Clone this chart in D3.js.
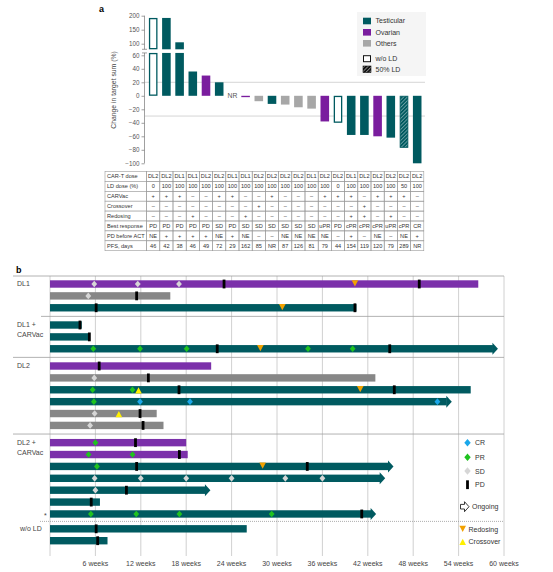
<!DOCTYPE html>
<html><head><meta charset="utf-8">
<script src="https://cdn.jsdelivr.net/npm/d3@7"></script>
<style>body{margin:0;background:#fff}svg text{font-family:"Liberation Sans",Arial,sans-serif}</style>
</head><body><svg id="c" width="553" height="572"></svg>
<script>
// ---------------- Panel a data ----------------
const patients = d3.range(1, 22).map(String);
const changePct = [192, 192, 105, 36, 30, 20, null, -2, -8, -12, -13, -17, -19, -38, -40, -58, -58, -60, -62, -77, -100];
const tumorA = ["Testicular","Testicular","Testicular","Testicular","Ovarian","Testicular","Testicular","Ovarian","Others","Testicular","Others","Others","Others","Ovarian","Testicular","Testicular","Testicular","Ovarian","Testicular","Testicular","Testicular"];
const carTDose = ["DL2","DL2","DL1","DL1","DL2","DL2","DL1","DL1","DL2","DL2","DL2","DL2","DL1","DL2","DL2","DL1","DL2","DL2","DL2","DL2","DL2"];
const ldDose = ["0","100","100","100","100","100","100","100","100","100","100","100","100","100","0","100","100","100","100","50","100"];
const carvac = ["+","+","+","–","–","+","+","–","–","+","–","–","–","+","+","+","–","+","+","+","–"];
const crossover = ["–","–","–","–","–","–","–","–","+","–","–","–","–","–","–","–","+","–","–","–","–"];
const redosing = ["–","–","–","+","–","–","–","+","–","–","–","–","–","–","–","+","+","–","+","–","–"];
const bestResp = ["PD","PD","PD","PD","PD","SD","PD","SD","SD","SD","SD","SD","SD","uPR","PD","cPR","cPR","cPR","uPR","cPR","CR"];
const pdBefore = ["NE","+","+","+","+","NE","+","NE","–","–","NE","NE","NE","NE","–","+","–","NE","–","NE","+"];
const pfsDays = ["46","42","38","46","49","72","29","162","85","NR","87","126","81","79","44","154","119","120","79","289","NR"];
const tableLabels = ["CAR-T dose","LD dose (%)","CARVac","Crossover","Redosing","Best response","PD before ACT","PFS, days"];
const lowTicks = d3.range(-100, 61, 20);
const highTicks = [100, 150, 200];
const thresholds = [20, -30];

// ---------------- Panel b data ----------------
const rowIds = d3.range(1, 22).map(String);
const rowGroup = ["DL1","DL1","DL1","DL1 + CARVac","DL1 + CARVac","DL1 + CARVac","DL2","DL2","DL2","DL2","DL2","DL2","DL2 + CARVac","DL2 + CARVac","DL2 + CARVac","DL2 + CARVac","DL2 + CARVac","DL2 + CARVac","DL2 + CARVac","w/o LD","w/o LD"];
const rowTumor = ["Ovarian","Others","Testicular","Testicular","Testicular","Testicular","Ovarian","Others","Testicular","Testicular","Others","Others","Ovarian","Ovarian","Testicular","Testicular","Testicular","Testicular","Testicular","Testicular","Testicular"];
const rowEndWeeks = [56.6, 15.9, 40.5, 4.2, 5.3, 59.2, 21.3, 43.0, 55.6, 53.1, 14.1, 15.0, 18.0, 18.2, 45.4, 44.3, 21.2, 6.6, 43.1, 26.0, 7.6];
const rowOngoing = [false,false,false,false,false,true,false,false,false,true,false,false,false,false,true,true,true,false,true,false,false];
const rowEvents = [
  [[5.85,"SD"],[11.6,"SD"],[17.05,"SD"],[23.0,"PD"],[40.3,"R"],[48.8,"PD"]],
  [[5.06,"SD"],[11.45,"PD"]],
  [[6.1,"PD"],[30.7,"R"],[40.3,"PD"]],
  [[3.96,"PD"]],
  [[5.2,"PD"]],
  [[5.72,"PR"],[11.9,"PR"],[18.06,"PR"],[22.1,"PD"],[27.8,"R"],[34.1,"PR"],[40.0,"PR"],[44.9,"PD"]],
  [[6.5,"PD"]],
  [[5.85,"SD"],[13.0,"PD"]],
  [[5.64,"PR"],[10.9,"PR"],[11.7,"C"],[17.05,"PD"],[41.0,"R"],[45.5,"PD"]],
  [[5.8,"PR"],[11.9,"CR"],[18.5,"CR"],[51.2,"CR"]],
  [[5.9,"SD"],[9.1,"C"],[11.9,"PD"]],
  [[5.3,"SD"],[12.3,"PD"]],
  [[6.0,"PR"],[11.3,"PD"]],
  [[5.1,"PR"],[10.9,"PR"],[17.1,"PD"]],
  [[6.2,"PR"],[11.45,"PD"],[28.1,"R"],[34.0,"PD"]],
  [[5.9,"SD"],[12.0,"SD"],[18.0,"SD"],[24.0,"SD"],[31.1,"SD"],[36.0,"SD"]],
  [[6.0,"SD"],[10.1,"PD"]],
  [[5.45,"PD"]],
  [[5.4,"PR"],[11.4,"PR"],[17.1,"PR"],[29.3,"PR"],[41.2,"PD"]],
  [[6.1,"PD"]],
  [[6.3,"PD"]]
];
const weekTicks = d3.range(6, 61, 6);
const groupNames = ["DL1","DL1 + CARVac","DL2","DL2 + CARVac","w/o LD"];

// ---------------- styles ----------------
const colA = {Testicular:"#005a60", Ovarian:"#7a1d9e", Others:"#a7a7a7"};
const colB = {Testicular:"#005a60", Ovarian:"#7b30aa", Others:"#878787"};
const evCol = {CR:"#1aa7ea", PR:"#1fc21f", SD:"#d6d6d6", R:"#f2a100", C:"#fff000"};
const font = '"Liberation Sans",Arial,sans-serif';

const svg = d3.select("#c");
const defs = svg.append("defs");
function hatch(id, bg, fg) {
  const p = defs.append("pattern").attr("id", id).attr("patternUnits", "userSpaceOnUse")
    .attr("width", 2.6).attr("height", 2.6).attr("patternTransform", "rotate(45)");
  p.append("rect").attr("width", 2.6).attr("height", 2.6).attr("fill", bg);
  p.append("line").attr("x1", 0).attr("y1", 0).attr("x2", 0).attr("y2", 2.6).attr("stroke", fg).attr("stroke-width", 0.9);
}
hatch("hT", colA.Testicular, "#cfe3e4");
hatch("hK", "#111", "#fff");

// =============== Panel a ===============
svg.append("text").attr("x", 99).attr("y", 12).attr("font-size", 9).attr("font-weight", "bold").text("a");

const x = d3.scaleBand().domain(patients).range([146.6, 423.8]).paddingInner(0.35).paddingOuter(0.175);
const yLow = d3.scaleLinear().domain([-100, 60]).range([163.3, 55.3]);
const yUp = d3.scaleLinear().domain([100, 200]).range([43.7, 15.7]);
const lowTop = 63.5, upBottom = 80;
const axX = 144.5;

const gA = svg.append("g");
// threshold lines
thresholds.forEach(t => {
  gA.append("line").attr("x1", axX + 1).attr("x2", 425).attr("y1", yLow(t)).attr("y2", yLow(t))
    .attr("stroke", "#8a8a8a").attr("stroke-width", 0.7).attr("stroke-dasharray", "1,1");
});
// axes
const axL = gA.append("g").attr("transform", `translate(${axX},0)`).call(d3.axisLeft(yLow).tickValues(lowTicks).tickSize(3).tickPadding(2));
const axU = gA.append("g").attr("transform", `translate(${axX},0)`).call(d3.axisLeft(yUp).tickValues(highTicks).tickSize(3).tickPadding(2));
[axL, axU].forEach(a => {
  a.select(".domain").remove();
  a.selectAll("line").attr("stroke", "#777").attr("stroke-width", 0.7);
  a.selectAll("text").attr("font-size", 6.3).attr("fill", "#555").attr("font-family", font);
});
gA.append("line").attr("x1", axX).attr("x2", axX).attr("y1", yLow(-100)).attr("y2", yLow(lowTop)).attr("stroke", "#777").attr("stroke-width", 0.7);
gA.append("line").attr("x1", axX).attr("x2", axX).attr("y1", yUp(200)).attr("y2", yUp(upBottom)).attr("stroke", "#777").attr("stroke-width", 0.7);
[yUp(upBottom), yLow(lowTop)].forEach(yy => gA.append("line").attr("x1", axX - 2.5).attr("x2", axX + 2.5).attr("y1", yy).attr("y2", yy).attr("stroke", "#777").attr("stroke-width", 0.7));

gA.append("text").attr("transform", `translate(116,90) rotate(-90)`).attr("text-anchor", "middle")
  .attr("font-size", 6.8).attr("fill", "#444").text("Change in target sum (%)");

// bars
patients.forEach((p, i) => {
  const v = changePct[i];
  const bx = x(p), bw = x.bandwidth();
  if (v === null) {
    gA.append("text").attr("x", bx + bw / 2).attr("y", yLow(0) + 2.3).attr("text-anchor", "middle")
      .attr("font-size", 6.8).attr("fill", "#555").text("NR");
    return;
  }
  const ld = ldDose[i];
  let fill = colA[tumorA[i]], stroke = "none", sw = 0;
  if (ld === "0") { fill = "#fff"; stroke = colA[tumorA[i]]; sw = 1.3; }
  if (ld === "50") { fill = "url(#hT)"; stroke = colA[tumorA[i]]; sw = 0.8; }
  const segs = [];
  if (v > lowTop) {
    segs.push([yLow(lowTop), yLow(0)]);
    segs.push([yUp(v), yUp(upBottom)]);
  } else if (v >= 0) segs.push([yLow(v), yLow(0)]);
  else segs.push([yLow(0), yLow(v)]);
  segs.forEach(s => {
    const h = Math.max(s[1] - s[0], 1.2);
    gA.append("rect").attr("x", bx + sw / 2).attr("y", s[0] + sw / 2).attr("width", bw - sw).attr("height", Math.max(h - sw, 0.8))
      .attr("fill", fill).attr("stroke", stroke).attr("stroke-width", sw);
  });
});

// legend a
const lg = gA.append("g");
lg.append("rect").attr("x", 357).attr("y", 12).attr("width", 69).attr("height", 64).attr("fill", "#f5f5f5");
[["Testicular", 21], ["Ovarian", 32.3], ["Others", 43.3]].forEach(([k, yy]) => {
  lg.append("rect").attr("x", 363).attr("y", yy - 3.3).attr("width", 8).attr("height", 6.6).attr("fill", colA[k]);
  lg.append("text").attr("x", 375.5).attr("y", yy + 2.4).attr("font-size", 7).attr("fill", "#333").text(k);
});
lg.append("rect").attr("x", 363.5).attr("y", 58.7 - 3).attr("width", 7).attr("height", 6).attr("fill", "#fff").attr("stroke", "#111").attr("stroke-width", 1);
lg.append("text").attr("x", 375.5).attr("y", 58.7 + 2.4).attr("font-size", 7).attr("fill", "#333").text("w/o LD");
lg.append("rect").attr("x", 363).attr("y", 69.3 - 3.3).attr("width", 8).attr("height", 6.6).attr("fill", "url(#hK)").attr("stroke", "#111").attr("stroke-width", 0.6);
lg.append("text").attr("x", 375.5).attr("y", 69.3 + 2.4).attr("font-size", 7).attr("fill", "#333").text("50% LD");

// table
const tableRows = [carTDose, ldDose, carvac, crossover, redosing, bestResp, pdBefore, pfsDays];
const tTop = 171.5, rowH = 9.9, tLeft = 105, tRight = x.range()[1];
const gT = svg.append("g");
tableRows.forEach((arr, r) => {
  const yy = tTop + r * rowH;
  gT.append("rect").attr("x", tLeft).attr("y", yy).attr("width", x.range()[0] - tLeft).attr("height", rowH)
    .attr("fill", "#fff").attr("stroke", "#9a9a9a").attr("stroke-width", 0.6);
  gT.append("text").attr("x", tLeft + 2).attr("y", yy + rowH / 2 + 2).attr("font-size", 5.6).attr("fill", "#333").text(tableLabels[r]);
  arr.forEach((val, i) => {
    const cx = x(patients[i]) - x.step() * x.paddingInner() / 2;
    gT.append("rect").attr("x", cx).attr("y", yy).attr("width", x.step()).attr("height", rowH)
      .attr("fill", "none").attr("stroke", "#9a9a9a").attr("stroke-width", 0.6);
    gT.append("text").attr("x", cx + x.step() / 2).attr("y", yy + rowH / 2 + 2).attr("text-anchor", "middle")
      .attr("font-size", 5.6).attr("fill", "#333").text(val);
  });
});

// =============== Panel b ===============
svg.append("text").attr("x", 16).attr("y", 273).attr("font-size", 9).attr("font-weight", "bold").text("b");

const xw = d3.scaleLinear().domain([0, 60]).range([50, 504]);
const gapF = {"DL1":0, "DL1 + CARVac":0.45, "DL2":0.9, "DL2 + CARVac":1.35, "w/o LD":1.6};
const slot = i => i + gapF[rowGroup[i]];
const yr = d3.scaleLinear().domain([0, 21.6]).range([284, 540.7]);
const gB = svg.append("g");
const yTop = 276, yBot = 556;

// gridlines
[0].concat(weekTicks).forEach(w => {
  gB.append("line").attr("x1", xw(w)).attr("x2", xw(w)).attr("y1", yTop).attr("y2", yBot)
    .attr("stroke", "#c4c4c4").attr("stroke-width", 0.8);
});
// separators
gB.append("line").attr("x1", 13).attr("x2", 504).attr("y1", yTop).attr("y2", yTop).attr("stroke", "#a0a0a0").attr("stroke-width", 0.8);
const sepDefs = [[2, 3, 41], [5, 6, 13], [11, 12, 13]];
sepDefs.forEach(([a, b, x0]) => {
  const yy = yr((slot(a) + slot(b)) / 2);
  gB.append("line").attr("x1", x0).attr("x2", 504).attr("y1", yy).attr("y2", yy).attr("stroke", "#a0a0a0").attr("stroke-width", 0.8);
});
const dotY = yr((slot(18) + slot(19)) / 2);
gB.append("line").attr("x1", 40).attr("x2", 504).attr("y1", dotY).attr("y2", dotY).attr("stroke", "#8a8a8a").attr("stroke-width", 0.7).attr("stroke-dasharray", "1,1");

// x tick labels
weekTicks.forEach(w => {
  gB.append("text").attr("x", xw(w)).attr("y", 565.5).attr("text-anchor", "middle").attr("font-size", 7)
    .attr("fill", "#444").text(w + " weeks");
});

// group labels
function groupLabel(lines, yy, xx) {
  lines.forEach((l, k) => gB.append("text").attr("x", xx).attr("y", yy + 2.4 + k * 9.5).attr("font-size", 7).attr("fill", "#444").text(l));
}
groupLabel(["DL1"], yr(slot(0)), 17);
groupLabel(["DL1 +", "CARVac"], yr(slot(3)), 17);
groupLabel(["DL2"], yr(slot(6)), 17);
groupLabel(["DL2 +", "CARVac"], yr(slot(12)), 17);
groupLabel(["w/o LD"], yr(slot(19)), 20);
gB.append("text").attr("x", 44).attr("y", yr(slot(18)) + 4).attr("font-size", 7).attr("fill", "#444").text("*");

const bh = 7.4;
const diamond = (cx, cy, s) => `M${cx},${cy - s * 1.15}L${cx + s},${cy}L${cx},${cy + s * 1.15}L${cx - s},${cy}Z`;
rowIds.forEach((id, i) => {
  const yy = yr(slot(i));
  const c = colB[rowTumor[i]];
  const xe = xw(rowEndWeeks[i]);
  if (rowOngoing[i]) {
    gB.append("rect").attr("x", xw(0)).attr("y", yy - bh / 2).attr("width", xe - 5 - xw(0)).attr("height", bh).attr("fill", c);
    gB.append("path").attr("d", `M${xe - 5.5},${yy - 6}L${xe},${yy}L${xe - 5.5},${yy + 6}Z`).attr("fill", c);
  } else {
    gB.append("rect").attr("x", xw(0)).attr("y", yy - bh / 2).attr("width", xe - xw(0)).attr("height", bh).attr("fill", c);
  }
  rowEvents[i].forEach(([w, t]) => {
    const ex = xw(w);
    if (t === "PD") {
      gB.append("rect").attr("x", ex - 1.4).attr("y", yy - 4.4).attr("width", 2.8).attr("height", 8.8).attr("fill", "#000");
    } else if (t === "R") {
      gB.append("path").attr("d", `M${ex - 3.3},${yy - 3.8}L${ex + 3.3},${yy - 3.8}L${ex},${yy + 2.4}Z`).attr("fill", evCol.R);
    } else if (t === "C") {
      gB.append("path").attr("d", `M${ex - 3.3},${yy + 3.8}L${ex + 3.3},${yy + 3.8}L${ex},${yy - 2.6}Z`).attr("fill", evCol.C);
    } else {
      gB.append("path").attr("d", diamond(ex, yy, 2.9)).attr("fill", evCol[t]);
    }
  });
});

// legend b
const lb = gB.append("g");
const lx = 467.5, tx = 475;
[["CR", 442.7], ["PR", 457.3], ["SD", 471]].forEach(([k, yy]) => {
  lb.append("path").attr("d", diamond(lx, yy, 3.2)).attr("fill", evCol[k]);
  lb.append("text").attr("x", tx).attr("y", yy + 2.5).attr("font-size", 7).attr("fill", "#333").text(k);
});
lb.append("rect").attr("x", lx - 1.4).attr("y", 484.7 - 4.4).attr("width", 2.8).attr("height", 8.8).attr("fill", "#000");
lb.append("text").attr("x", tx).attr("y", 484.7 + 2.5).attr("font-size", 7).attr("fill", "#333").text("PD");
lb.append("path").attr("d", `M460.5,${506.7 - 2.3}L464.5,${506.7 - 2.3}L464.5,${506.7 - 5}L469,506.7L464.5,${506.7 + 5}L464.5,${506.7 + 2.3}L460.5,${506.7 + 2.3}Z`)
  .attr("fill", "#fff").attr("stroke", "#222").attr("stroke-width", 0.9);
lb.append("text").attr("x", 472).attr("y", 506.7 + 2.5).attr("font-size", 7).attr("fill", "#333").text("Ongoing");
lb.append("path").attr("d", `M${462.7 - 3.3},${529 - 3.3}L${462.7 + 3.3},${529 - 3.3}L462.7,${529 + 3}Z`).attr("fill", evCol.R);
lb.append("text").attr("x", 468.5).attr("y", 529 + 2.5).attr("font-size", 7).attr("fill", "#333").text("Redosing");
lb.append("path").attr("d", `M${462.7 - 3.3},${541.7 + 3.3}L${462.7 + 3.3},${541.7 + 3.3}L462.7,${541.7 - 3}Z`).attr("fill", evCol.C);
lb.append("text").attr("x", 468.5).attr("y", 541.7 + 2.5).attr("font-size", 7).attr("fill", "#333").text("Crossover");
</script></body></html>
